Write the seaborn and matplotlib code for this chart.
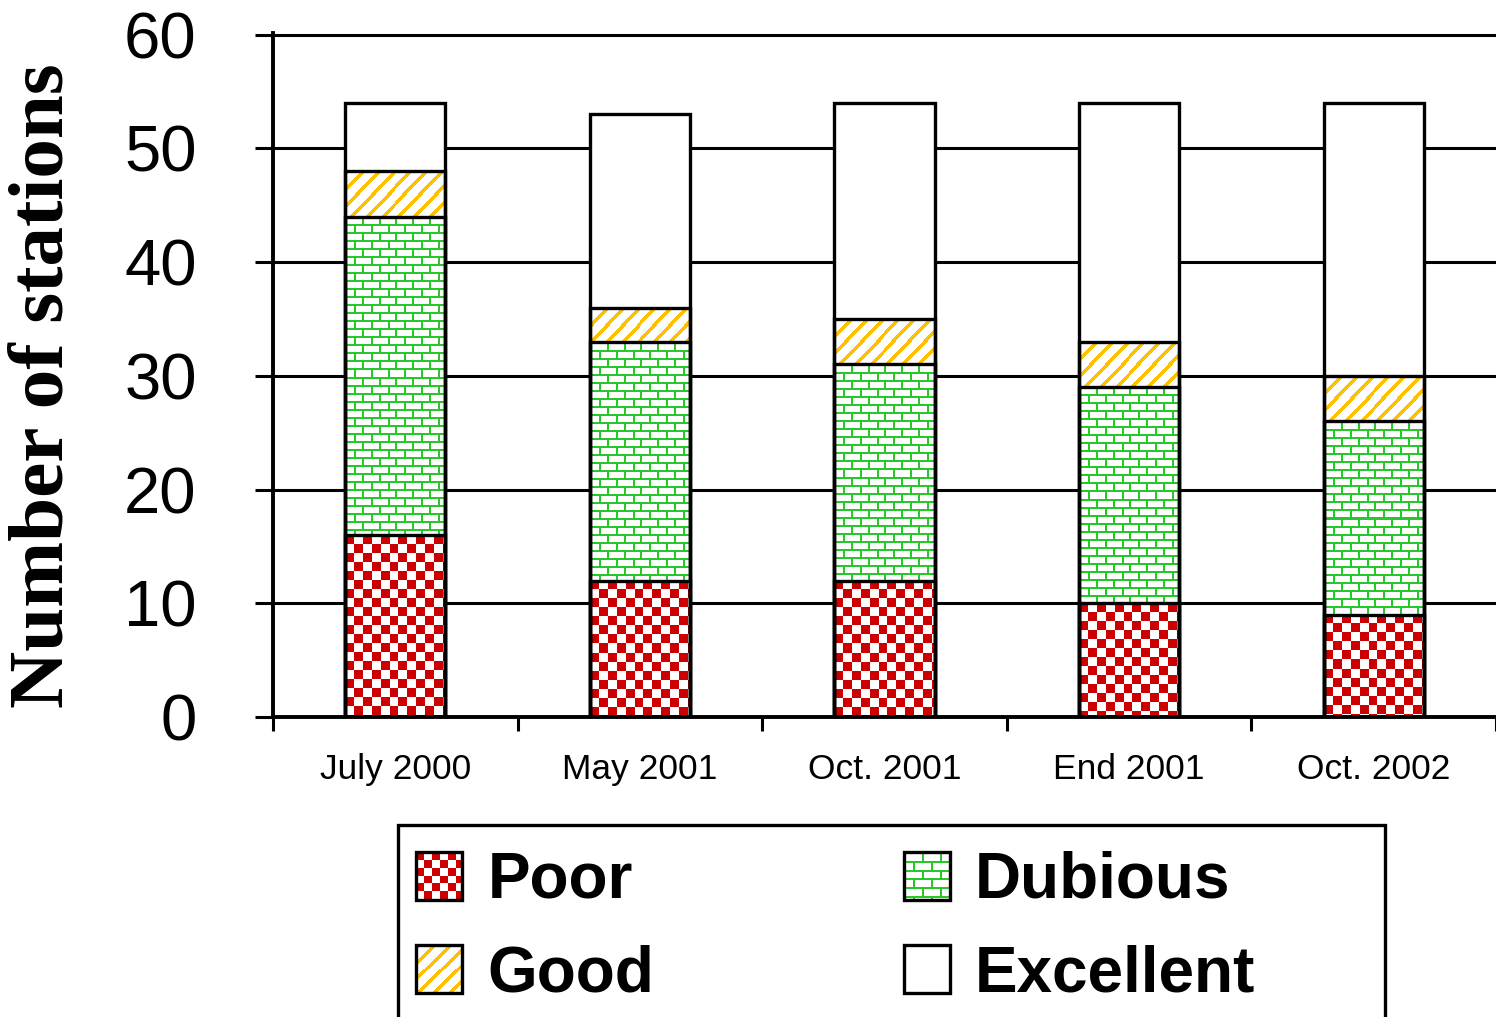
import numpy as np
import seaborn as sns
import matplotlib
matplotlib.use('Agg')
import matplotlib.pyplot as plt
from matplotlib import font_manager
from matplotlib.patches import Rectangle, Patch
from matplotlib.legend_handler import HandlerBase
from matplotlib.image import BboxImage
from matplotlib.transforms import Bbox, TransformedBbox
from matplotlib.font_manager import FontProperties

months = ['July 2000', 'May 2001', 'Oct. 2001', 'End 2001', 'Oct. 2002']
poor = [16, 12, 12, 10, 9]
dubious = [28, 21, 19, 19, 17]
good = [4, 3, 4, 4, 4]
excellent = [6, 17, 19, 21, 24]
series = ['Poor', 'Dubious', 'Good', 'Excellent']
yticks = [0, 10, 20, 30, 40, 50, 60]

RED = np.array([204, 0, 0]) / 255
GREEN = np.array([40, 200, 40]) / 255
GOLD = np.array([255, 192, 0]) / 255


def texture(kind, w, h, s=9, row_h=8, brick_w=17):
    w, h = max(int(round(w)), 1), max(int(round(h)), 1)
    r, c = np.mgrid[0:h, 0:w]
    img = np.ones((h, w, 3))
    if kind == 'Poor':
        img[((r // s) + (c // s)) % 2 == 0] = RED
    elif kind == 'Dubious':
        row = r // row_h
        img[(r % row_h < 2) | (((c + (row % 2) * (brick_w // 2)) % brick_w) < 2)] = GREEN
    elif kind == 'Good':
        img[((c + r) % 16) < 5] = GOLD
    return img


class TextureHandler(HandlerBase):
    def __init__(self, kind):
        super().__init__()
        self.kind = kind

    def create_artists(self, legend, orig_handle, xdescent, ydescent,
                       width, height, fontsize, trans):
        bb = TransformedBbox(Bbox.from_bounds(-xdescent, -ydescent, width, height), trans)
        img = BboxImage(bb, interpolation='nearest')
        img.set_data(texture(self.kind, 46, 49, s=8, row_h=9, brick_w=18))
        rect = Rectangle((-xdescent, -ydescent), width, height, fill=False,
                         edgecolor='black', lw=2.4, transform=trans)
        return [img, rect]


def has_font(name):
    try:
        font_manager.findfont(name, fallback_to_default=False)
        return True
    except Exception:
        return False


sns.set_theme(style='white')
plt.rcParams['font.family'] = ['Liberation Sans', 'DejaVu Sans']
plt.rcParams.update({'text.color': 'black', 'axes.labelcolor': 'black',
                     'xtick.color': 'black', 'ytick.color': 'black'})

W, H = 1496, 1017
fig = plt.figure(figsize=(W / 100, H / 100), dpi=100)
ax = fig.add_axes([273 / W, (H - 717) / H, (W - 273) / W, 684 / H])

cum = np.cumsum([poor, dubious, good, excellent], axis=0)
XLIM = (-0.5, -0.5 + (W - 273) / 247.8)
YLIM = (0, 60.15)

# white background of each stack
sns.barplot(x=months, y=cum[3], color='white', width=0.41, errorbar=None,
            saturation=1, linewidth=0, ax=ax, zorder=2)

outlines = []
for k in range(4):
    n0 = len(ax.patches)
    sns.barplot(x=months, y=cum[k], color='white', width=0.41, errorbar=None,
                saturation=1, ax=ax)
    ps = ax.patches[n0:]
    for p in ps:
        p.set_facecolor('none')
        p.set_edgecolor('black')
        p.set_linewidth(2.4)
        p.set_zorder(4)
    outlines.append(ps)

ax.set_xlim(*XLIM)
ax.set_ylim(*YLIM)

for k in range(3):
    for i, p in enumerate(outlines[k]):
        x0, w = p.get_x(), p.get_width()
        top = p.get_height()
        bot = outlines[k - 1][i].get_height() if k > 0 else 0
        (px0, py0), (px1, py1) = ax.transData.transform([(x0, bot), (x0 + w, top)])
        tex = texture(series[k], abs(px1 - px0), abs(py1 - py0))
        ax.imshow(tex, extent=(x0, x0 + w, bot, top), aspect='auto',
                  interpolation='nearest', zorder=3)

ax.set_xlim(*XLIM)
ax.set_ylim(*YLIM)

# axes styling
ax.set_yticks(yticks)
ax.yaxis.grid(True, color='black', lw=2.2)
ax.set_axisbelow(True)
for side in ['top', 'right']:
    ax.spines[side].set_visible(False)
for side in ['left', 'bottom']:
    ax.spines[side].set_color('black')
    ax.spines[side].set_linewidth(2.8)
    ax.spines[side].set_zorder(5)

ax.tick_params(axis='y', left=True, length=13, width=2.2, pad=42, labelsize=47,
               direction='out', color='black', labelcolor='black')
ax.set_xticks(np.arange(-0.5, 5), minor=True)
ax.tick_params(axis='x', which='major', length=0, pad=26, labelsize=30, labelcolor='black')
ax.tick_params(axis='x', which='minor', bottom=True, length=10, width=2.2,
               direction='out', color='black')
narrow = 'Liberation Sans Narrow' if has_font('Liberation Sans Narrow') else None
for lab in ax.get_xticklabels():
    if narrow:
        lab.set_family([narrow, 'DejaVu Sans'])
    else:
        lab.set_fontsize(25.5)
ax.set_xlabel('')
ax.set_ylabel('')

fig.text(44 / W, 1 - 386 / H, 'Number of stations', rotation=90, ha='center',
         va='center', family=['Liberation Serif', 'DejaVu Serif'], weight='bold',
         size=57, color='black')

# legend
order = ['Poor', 'Good', 'Dubious', 'Excellent']
handles = [Patch(label=s) for s in order]
hmap = {h: TextureHandler(h.get_label()) for h in handles}
fig.legend(handles=handles, labels=order, handler_map=hmap, loc='upper left',
           bbox_to_anchor=(416 / W, 1 - 851 / H), bbox_transform=fig.transFigure,
           ncol=2, frameon=False, borderpad=0, borderaxespad=0,
           handlelength=0.72, handleheight=0.77, handletextpad=0.4,
           columnspacing=3.9, labelspacing=0.52, labelcolor='black',
           prop=FontProperties(family='Liberation Sans', weight='bold', size=46))
fig.add_artist(Rectangle((398 / W, -0.02), (1385 - 398) / W, 0.02 + (H - 825) / H,
                         fill=False, edgecolor='black', lw=2.4,
                         transform=fig.transFigure, clip_on=False))

fig.savefig('out.png', dpi=100)
